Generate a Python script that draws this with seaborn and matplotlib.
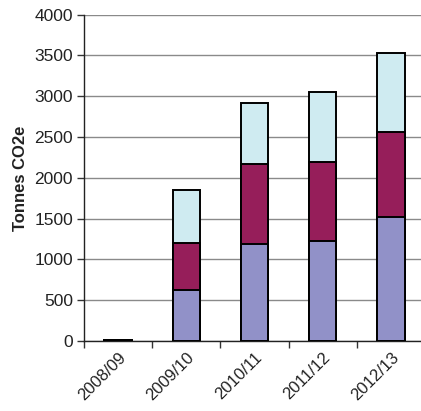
import matplotlib
matplotlib.use("Agg")
import matplotlib.pyplot as plt
import seaborn as sns
import numpy as np
import pandas as pd

# Annual emissions by source (tonnes CO2e)
years = ["2008/09", "2009/10", "2010/11", "2011/12", "2012/13"]
source_a = [12, 620, 1190, 1220, 1520]
source_b = [0, 580, 985, 975, 1040]
source_c = [0, 650, 740, 860, 970]

y_ticks = [0, 500, 1000, 1500, 2000, 2500, 3000, 3500, 4000]

colors = ["#9191C8", "#961E5A", "#CFEBF1"]

sns.set_style("white")
plt.rcParams["font.family"] = ["Liberation Sans", "DejaVu Sans"]

df = pd.DataFrame({"year": years, "a": source_a, "b": source_b, "c": source_c})
df["ab"] = df["a"] + df["b"]
df["abc"] = df["ab"] + df["c"]

fig = plt.figure(figsize=(4.21, 4.11), dpi=100)
ax = fig.add_axes([84 / 421, 1 - 341 / 411, 341 / 421, 326.3 / 411])

# Stacked bars drawn as overlaid cumulative totals, tallest first
for col, color in zip(["abc", "ab", "a"], colors[::-1]):
    sns.barplot(data=df, x="year", y=col, color=color, width=0.4,
                edgecolor="black", linewidth=1.4, saturation=1, ax=ax,
                zorder=3)

ax.set_ylim(0, 4000)
ax.set_xlim(-0.5, 4.5)
ax.set_yticks(y_ticks)
ax.set_yticklabels([str(t) for t in y_ticks], fontsize=12.5, color="#222222")
ax.yaxis.grid(True, color="#8a8a8a", linewidth=1.0, zorder=0)
ax.set_axisbelow(True)

ax.set_xticks(np.arange(len(years)))
ax.set_xticklabels(years, rotation=45, ha="right", rotation_mode="anchor",
                   fontsize=12, color="#222222")
ax.tick_params(axis="x", length=0, pad=6)
ax.tick_params(axis="y", length=5, width=1, color="#333333", pad=3, left=True)

# x tick marks sit between categories
ax.set_xticks(np.arange(-0.5, len(years), 1), minor=True)
ax.tick_params(axis="x", which="minor", length=5, width=1, color="#333333",
               bottom=True)

for side in ["top", "right"]:
    ax.spines[side].set_visible(False)
ax.spines["left"].set_color("#222222")
ax.spines["bottom"].set_color("#222222")
ax.spines["left"].set_linewidth(1.0)
ax.spines["bottom"].set_linewidth(1.0)

ax.set_xlabel("")
ax.set_ylabel("Tonnes CO2e", fontsize=12, fontweight="bold", color="#222222")
ax.yaxis.set_label_coords((28 - 84) / 341, 0.5)

fig.savefig("out.png", dpi=100)
